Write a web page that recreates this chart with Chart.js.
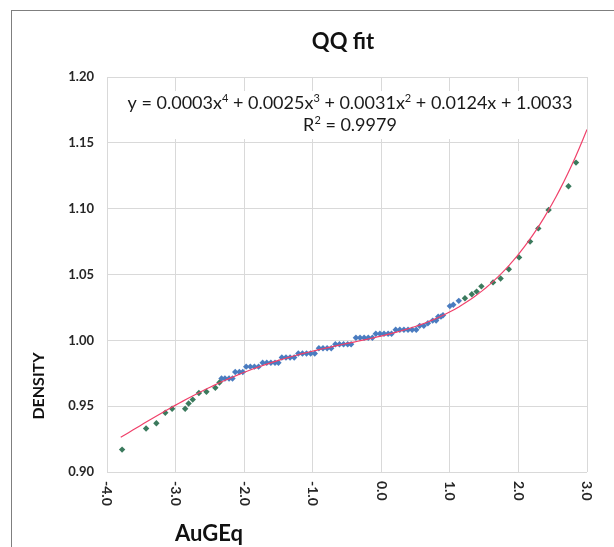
<!DOCTYPE html>
<html>
<head>
<meta charset="utf-8">
<script src="https://cdn.jsdelivr.net/npm/chart.js@4.4.1/dist/chart.umd.min.js"></script>
<style>
  html, body { margin: 0; padding: 0; background: #fff; }
  #frame {
    position: absolute; left: 11px; top: 10px; width: 640px; height: 600px;
    border-left: 1px solid #7f7f7f; border-top: 1px solid #7f7f7f;
  }
  #wrap { position: absolute; left: 0; top: 0; width: 614px; height: 547px; }
</style>
</head>
<body>
<div id="frame"></div>
<div id="wrap"><canvas id="qqChart"></canvas></div>
<script>
// theoretical quantile (AuGEq) vs sorted density
const lowerTailX = [-3.78, -3.43, -3.28, -3.15, -3.05, -2.86, -2.81, -2.75, -2.66, -2.55, -2.42, -2.36];
const lowerTailY = [0.917, 0.933, 0.937, 0.945, 0.948, 0.948, 0.952, 0.955, 0.960, 0.961, 0.964, 0.968];

const bodyX = [-2.33, -2.28, -2.22, -2.17, -2.13, -2.07, -2.02, -1.97, -1.91, -1.85, -1.79,
    -1.73, -1.67, -1.61, -1.55, -1.50, -1.45, -1.39, -1.33, -1.27, -1.21, -1.15, -1.09, -1.03, -0.97,
    -0.91, -0.85, -0.79, -0.73, -0.67, -0.61, -0.55, -0.49, -0.44, -0.37, -0.31, -0.25, -0.19, -0.13,
    -0.08, -0.02, 0.04, 0.10, 0.15, 0.21, 0.27, 0.33, 0.39, 0.45, 0.51, 0.56, 0.62, 0.68, 0.75, 0.80,
    0.83, 0.87, 0.90, 1.00, 1.05, 1.13];
const bodyY = [0.971, 0.971, 0.971, 0.971, 0.976, 0.976, 0.976, 0.980, 0.980, 0.980, 0.980,
    0.983, 0.983, 0.983, 0.983, 0.983, 0.987, 0.987, 0.987, 0.987, 0.990, 0.990, 0.990, 0.990, 0.990,
    0.994, 0.994, 0.994, 0.994, 0.997, 0.997, 0.997, 0.997, 0.997, 1.002, 1.002, 1.002, 1.002, 1.002,
    1.005, 1.005, 1.005, 1.005, 1.005, 1.008, 1.008, 1.008, 1.008, 1.008, 1.008, 1.011, 1.011, 1.013, 1.015, 1.015,
    1.018, 1.018, 1.019, 1.026, 1.027, 1.030];

const upperTailX = [1.22, 1.32, 1.39, 1.46, 1.63, 1.74, 1.86, 2.01, 2.17, 2.29, 2.44, 2.73, 2.84];
const upperTailY = [1.032, 1.035, 1.037, 1.041, 1.044, 1.047, 1.054, 1.063, 1.075, 1.085, 1.099, 1.117, 1.135];

const xTicks = [-4, -3, -2, -1, 0, 1, 2, 3];

// polynomial trend, constant term first
const trendCoef = [1.0033, 0.0124, 0.0031, 0.0025, 0.0003];
const trendRange = [-3.8, 3.0];
const rSquared = '0.9979';

const FONT = 'Lato, "Open Sans", sans-serif';

function toPoints(xs, ys) {
    return xs.map((x, i) => ({ x: x, y: ys[i] }));
}

function trendValue(x) {
    return trendCoef.reduce((sum, c, p) => sum + c * Math.pow(x, p), 0);
}

function trendPoints() {
    const pts = [];
    const steps = 120;
    for (let i = 0; i <= steps; i++) {
        const x = trendRange[0] + (trendRange[1] - trendRange[0]) * i / steps;
        pts.push({ x: x, y: trendValue(x) });
    }
    return pts;
}

function equationRuns() {
    const runs = [{ text: 'y = ' }];
    for (let p = trendCoef.length - 1; p >= 0; p--) {
        runs.push({ text: trendCoef[p].toFixed(4) + (p > 0 ? 'x' : '') });
        if (p > 1) runs.push({ text: String(p), sup: true });
        if (p > 0) runs.push({ text: ' + ' });
    }
    return runs;
}

function drawRuns(ctx, runs, cx, y, size) {
    const base = size + 'px ' + FONT;
    const small = Math.round(size * 0.62) + 'px ' + FONT;
    let width = 0;
    runs.forEach(r => {
        ctx.font = r.sup ? small : base;
        r.w = ctx.measureText(r.text).width;
        width += r.w;
    });
    let x = cx - width / 2;
    ctx.textAlign = 'left';
    ctx.textBaseline = 'alphabetic';
    runs.forEach(r => {
        ctx.font = r.sup ? small : base;
        ctx.fillText(r.text, x, r.sup ? y - size * 0.38 : y);
        x += r.w;
    });
}

const annotate = {
    id: 'annotate',
    beforeDatasetsDraw(chart) {
        const ctx = chart.ctx;
        const a = chart.chartArea;
        const cx = (a.left + a.right) / 2 + 3;
        ctx.save();
        // label box for the fitted equation
        ctx.fillStyle = '#ffffff';
        ctx.fillRect(a.left + 14, a.top + 14, a.right - a.left - 20, 48);
        ctx.fillStyle = '#1a1a1a';
        drawRuns(ctx, equationRuns(), cx, a.top + 32, 18);
        drawRuns(ctx, [{ text: 'R' }, { text: '2', sup: true }, { text: ' = ' + rSquared }],
            cx, a.top + 54, 18);
        ctx.restore();
    },
    afterDraw(chart) {
        const ctx = chart.ctx;
        const a = chart.chartArea;
        const xScale = chart.scales.x;
        ctx.save();
        ctx.fillStyle = '#111';

        ctx.font = 'bold 22px ' + FONT;
        ctx.textAlign = 'center';
        ctx.textBaseline = 'middle';
        ctx.fillText('QQ fit', (a.left + a.right) / 2 - 4, 42);

        // x tick labels run top to bottom
        ctx.font = 'bold 14px ' + FONT;
        ctx.fillStyle = '#262626';
        ctx.textAlign = 'left';
        xTicks.forEach(v => {
            ctx.save();
            ctx.translate(xScale.getPixelForValue(v), a.bottom + 9);
            ctx.rotate(Math.PI / 2);
            ctx.fillText(v.toFixed(1), 0, 0);
            ctx.restore();
        });

        ctx.fillStyle = '#111';
        ctx.textAlign = 'center';
        ctx.font = 'bold 16px ' + FONT;
        ctx.save();
        ctx.translate(39, 386);
        ctx.rotate(-Math.PI / 2);
        ctx.fillText('DENSITY', 0, 0);
        ctx.restore();

        ctx.font = 'bold 22px ' + FONT;
        ctx.fillText('AuGEq', 209, 534);
        ctx.restore();
    }
};

function initChart() {
    const ctx = document.getElementById('qqChart').getContext('2d');
    const marker = { pointStyle: 'rectRot', pointRadius: 3.2, pointBorderWidth: 0, showLine: false };

    new Chart(ctx, {
        type: 'scatter',
        data: {
            datasets: [
                {
                    type: 'line',
                    label: 'Poly. (DENSITY)',
                    data: trendPoints(),
                    borderColor: '#f0406a',
                    borderWidth: 1.2,
                    pointRadius: 0,
                    tension: 0,
                    order: 0
                },
                Object.assign({ label: 'lower', data: toPoints(lowerTailX, lowerTailY),
                    backgroundColor: '#3b7a5d', order: 1 }, marker),
                Object.assign({ label: 'body', data: toPoints(bodyX, bodyY),
                    backgroundColor: '#4a7cc0', order: 1 }, marker),
                Object.assign({ label: 'upper', data: toPoints(upperTailX, upperTailY),
                    backgroundColor: '#3b7a5d', order: 1 }, marker)
            ]
        },
        options: {
            responsive: true,
            maintainAspectRatio: false,
            animation: false,
            layout: { padding: { left: 0, right: 27, top: 77, bottom: 75 } },
            plugins: {
                legend: { display: false },
                tooltip: { enabled: false }
            },
            scales: {
                x: {
                    type: 'linear',
                    min: -4,
                    max: 3,
                    ticks: { display: false, stepSize: 1 },
                    grid: { color: '#d9d9d9', drawTicks: false },
                    border: { display: false }
                },
                y: {
                    min: 0.90,
                    max: 1.20,
                    afterFit: scale => { scale.width = 107; },
                    ticks: {
                        stepSize: 0.05,
                        padding: 13,
                        color: '#262626',
                        font: { family: FONT, size: 13, weight: 'bold' },
                        callback: v => v.toFixed(2)
                    },
                    grid: { color: '#d9d9d9', drawTicks: false },
                    border: { display: false }
                }
            }
        },
        plugins: [annotate]
    });
}

initChart();
</script>
</body>
</html>
